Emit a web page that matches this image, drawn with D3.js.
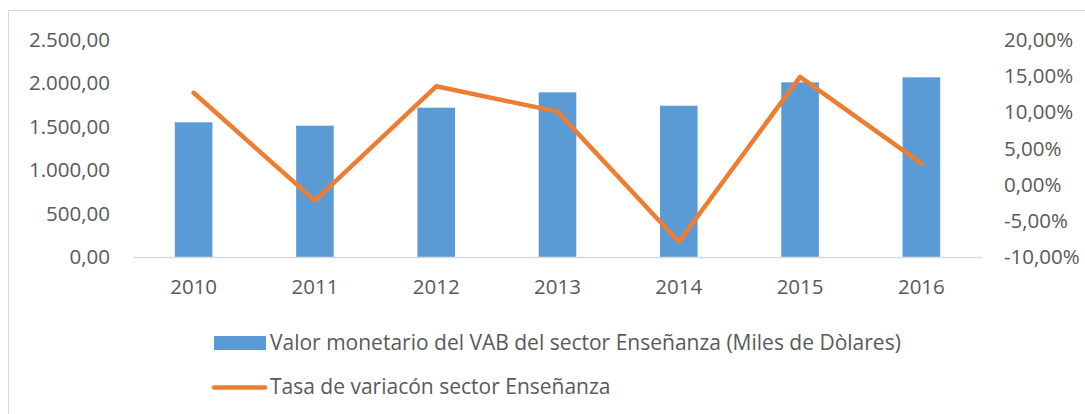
<!DOCTYPE html>
<html><head><meta charset="utf-8">
<script src="https://cdn.jsdelivr.net/npm/d3@7"></script>
<style>
html,body{margin:0;padding:0;background:#fff;}
svg{display:block;}
text{font-family:"Open Sans",sans-serif;fill:#595959;}
</style></head>
<body>
<svg id="chart" width="1085" height="414"></svg>
<script>
const years = ["2010","2011","2012","2013","2014","2015","2016"];
const vabValues = [1552, 1513, 1720, 1897, 1743, 2012, 2070];
const rateValues = [0.127, -0.022, 0.136, 0.101, -0.079, 0.149, 0.0295];
const leftTicks = [0, 500, 1000, 1500, 2000, 2500];
const rightTicks = [-0.10, -0.05, 0, 0.05, 0.10, 0.15, 0.20];
const barLabel = "Valor monetario del VAB del sector Enseñanza (Miles de Dòlares)";
const lineLabel = "Tasa de variacón sector Enseñanza";

const locale = d3.formatLocale({decimal: ",", thousands: ".", grouping: [3], currency: ["", "$"], minus: "-"});
const fmtLeft = locale.format(",.2f");
const fmtRight = locale.format(".2%");

const svg = d3.select("#chart");
const plot = {left: 133, right: 982, top: 40, bottom: 257};

// chart border
svg.append("rect").attr("x", 8.5).attr("y", 10.5).attr("width", 1100).attr("height", 500)
  .attr("fill", "none").attr("stroke", "#d9d9d9").attr("stroke-width", 1);

const x = d3.scaleBand().domain(years).range([plot.left, plot.right])
  .paddingInner(0.69).paddingOuter(0.345);
const yL = d3.scaleLinear().domain([0, 2500]).range([plot.bottom, plot.top]);
const yR = d3.scaleLinear().domain([-0.10, 0.20]).range([plot.bottom, plot.top]);

// left axis
const axL = svg.append("g").attr("transform", `translate(${plot.left - 23},0)`)
  .call(d3.axisLeft(yL).tickValues(leftTicks).tickFormat(fmtLeft).tickSize(0).tickPadding(0));
axL.select(".domain").remove();
axL.selectAll("text").attr("font-size", 20.5).attr("font-family", '"Open Sans",sans-serif').attr("fill", "#595959");

// right axis
const axR = svg.append("g").attr("transform", `translate(${plot.right + 22},0)`)
  .call(d3.axisRight(yR).tickValues(rightTicks).tickFormat(fmtRight).tickSize(0).tickPadding(0));
axR.select(".domain").remove();
axR.selectAll("text").attr("font-size", 20.5).attr("font-family", '"Open Sans",sans-serif').attr("fill", "#595959");

// bars
svg.append("g").selectAll("rect").data(years).join("rect")
  .attr("x", d => x(d)).attr("width", x.bandwidth())
  .attr("y", (d, i) => yL(vabValues[i])).attr("height", (d, i) => yL(0) - yL(vabValues[i]))
  .attr("fill", "#5b9bd5");

// bottom axis
const axB = svg.append("g").attr("transform", `translate(0,${plot.bottom})`)
  .call(d3.axisBottom(x).tickSize(0).tickPadding(22));
axB.select(".domain").attr("stroke", "#d9d9d9").attr("stroke-width", 1.5);
axB.selectAll("text").attr("font-size", 20.5).attr("font-family", '"Open Sans",sans-serif').attr("fill", "#595959");

// line
const line = d3.line().x((d, i) => x(years[i]) + x.bandwidth() / 2).y(d => yR(d));
svg.append("path").datum(rateValues).attr("d", line)
  .attr("fill", "none").attr("stroke", "#ed7d31").attr("stroke-width", 4.5)
  .attr("stroke-linejoin", "round").attr("stroke-linecap", "round");

// legend
const lg = svg.append("g");
lg.append("rect").attr("x", 214).attr("y", 336).attr("width", 52).attr("height", 14).attr("fill", "#5b9bd5");
lg.append("text").attr("x", 270).attr("y", 343).attr("dy", "0.35em").attr("font-size", 21).text(barLabel);
lg.append("line").attr("x1", 214).attr("x2", 265).attr("y1", 387.5).attr("y2", 387.5)
  .attr("stroke", "#ed7d31").attr("stroke-width", 4.5).attr("stroke-linecap", "round");
lg.append("text").attr("x", 270).attr("y", 387).attr("dy", "0.35em").attr("font-size", 21).text(lineLabel);
</script>
</body></html>
